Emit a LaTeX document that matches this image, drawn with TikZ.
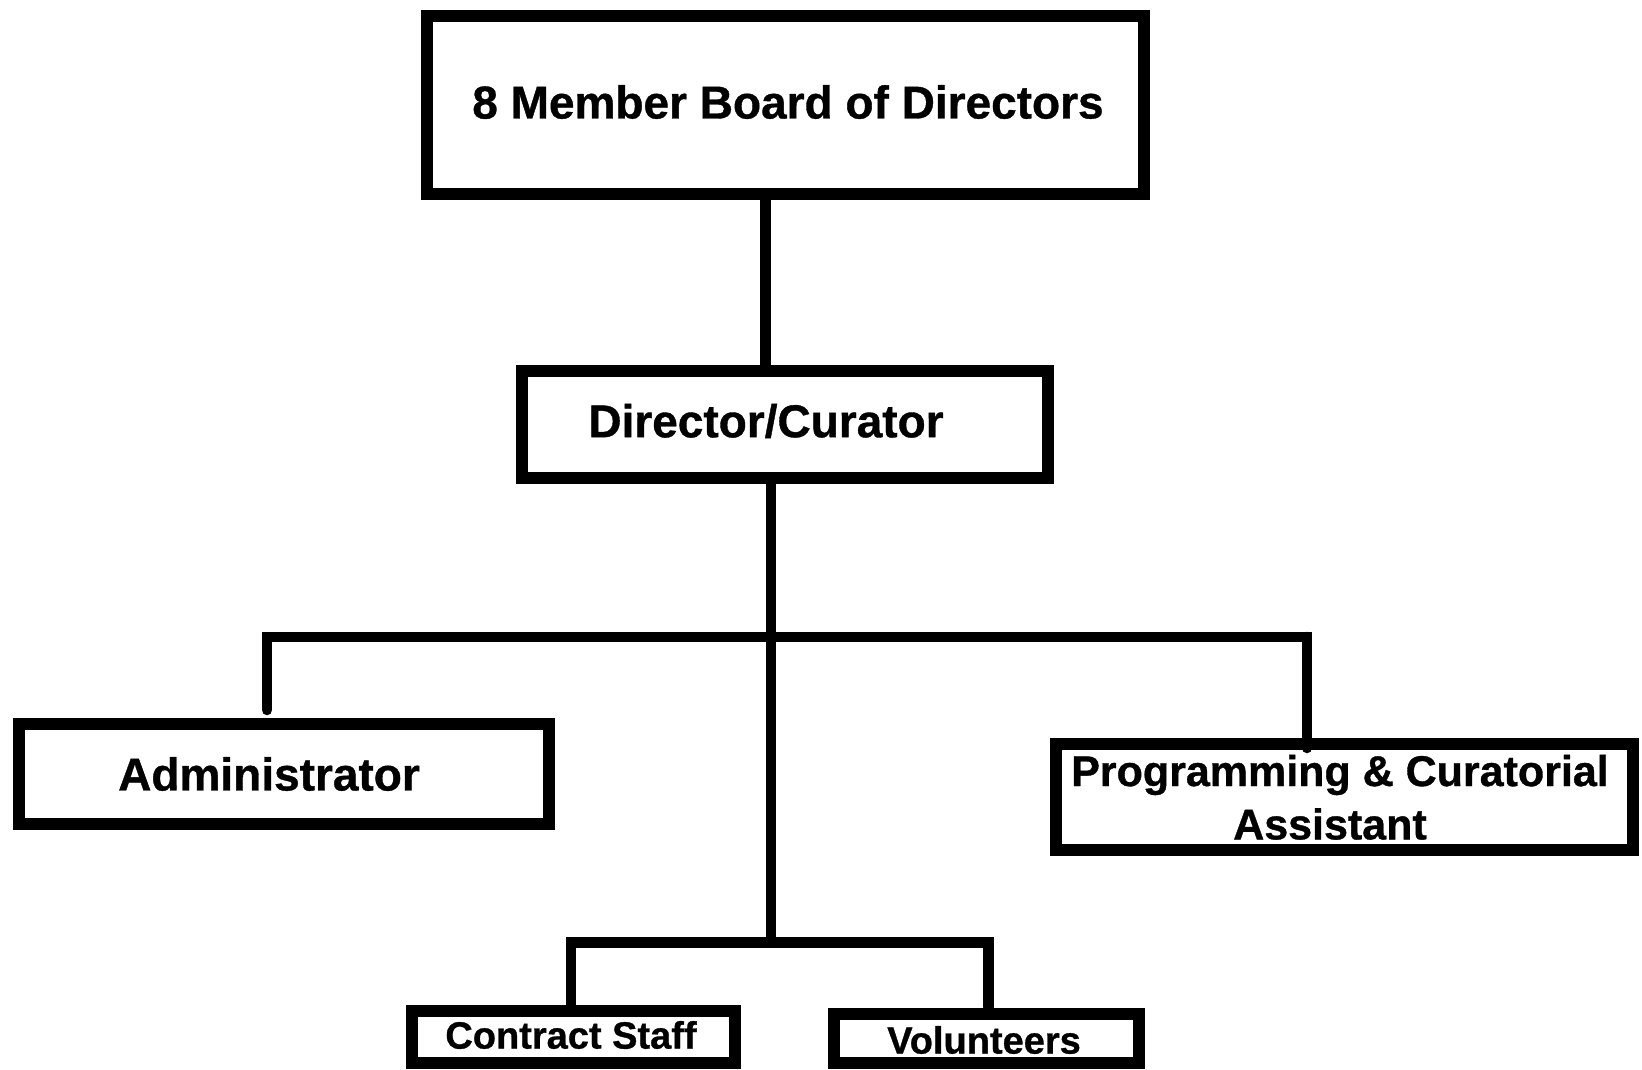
\documentclass[tikz,border=0pt]{standalone}
\usepackage{fontspec}
\setmainfont{Liberation Sans}[BoldFeatures={FakeBold=0.8}]
\usetikzlibrary{calc}
\tikzset{
  box/.style={draw=black, line width=12.5pt, rectangle, inner sep=0pt, fill=white},
  conn/.style={draw=black, line width=10.5pt, line cap=round},
  lbl/.style={font=\bfseries\fontsize{46}{52}\selectfont, inner sep=0pt, align=center},
  lblm/.style={font=\bfseries\fontsize{43}{54}\selectfont, inner sep=0pt, align=center},
  lbls/.style={font=\bfseries\fontsize{38}{44}\selectfont, inner sep=0pt, align=center}
}
\begin{document}
\begin{tikzpicture}[x=1pt,y=1pt]
\useasboundingbox (0,0) rectangle (1642,-1069);
\fill[white] (0,0) rectangle (1642,-1069);

% junction coordinates
\coordinate (c1) at (765.5,-300);
\coordinate (trunk) at (771,-942.5);
\coordinate (hl) at (267,-637);
\coordinate (hr) at (1307,-637);
\coordinate (bl) at (571,-942.5);
\coordinate (br) at (988.5,-942.5);

% connectors (drawn first, boxes on top)
\draw[conn] (c1 |- 0,-195) -- (c1 |- 0,-371);
\draw[conn] (trunk |- 0,-478) -- (trunk);
\draw[conn] (267,-710) -- (hl) -- (hr) -- (1307,-746);
\draw[conn] (571,-1005) -- (bl) -- (br) -- (988.5,-1007);

% boxes
\node[box, minimum width=717, minimum height=178] (board) at (785.5,-105) {};
\node[box, minimum width=526, minimum height=107] (director) at (785,-424.5) {};
\node[box, minimum width=530, minimum height=100] (admin) at (284,-774) {};
\node[box, minimum width=577, minimum height=106] (prog) at (1344.5,-797) {};
\node[box, minimum width=323, minimum height=52] (contract) at (573.5,-1037) {};
\node[box, minimum width=305, minimum height=49] (vol) at (986.5,-1038.5) {};

% connector end that enters the programming box top
\draw[conn] (hr) -- (1307,-748);

% labels
\node[lbl] (tboard) at (788,-102) {8 Member Board of Directors};
\node[lbl] (tdir) at (766,-421) {Director/Curator};
\node[lbl] (tadmin) at (269,-774) {Administrator};
\node[lblm] (tprog1) at (1340,-775) {Programming \& Curatorial};
\node[lblm] (tprog2) at (1330,-824) {Assistant};
\node[lbls] (tcontract) at (571,-1035) {Contract Staff};
\node[lbls] (tvol) at (984,-1040) {Volunteers};
\end{tikzpicture}
\end{document}
